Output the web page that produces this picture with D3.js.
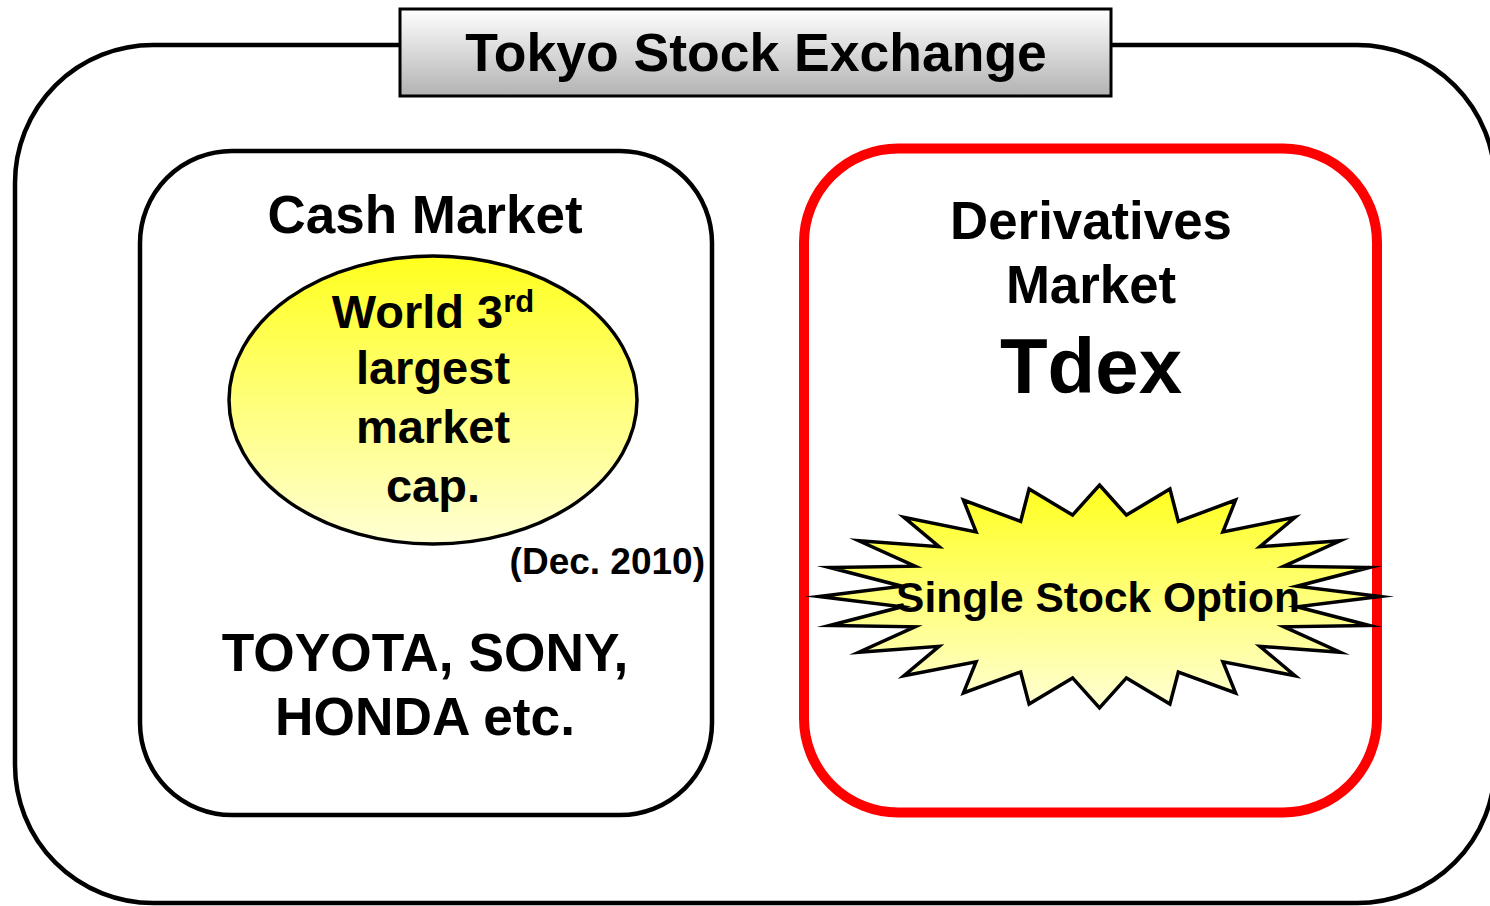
<!DOCTYPE html>
<html>
	<head>
		<meta charset="utf-8">
		<title>Tokyo Stock Exchange</title>
		<style>
			body {
			  margin: 0;
			  overflow: hidden;
			  background: #fff;
			}
			svg {
			  position: absolute;
			  font-family: "Liberation Sans", Arial, sans-serif;
			  font-weight: bold;
			}
		</style>
		<script src="https://d3js.org/d3.v7.min.js" charset="utf-8"></script>
	</head>
	<body>
		<script>

		// labels
		var titleText = "Tokyo Stock Exchange";
		var cashTitle = ["Cash Market"];
		var capLines = ["largest", "market", "cap."];
		var capFirst = ["World 3", "rd"];
		var capNote = "(Dec. 2010)";
		var companies = ["TOYOTA, SONY,", "HONDA etc."];
		var derivTitle = ["Derivatives", "Market"];
		var derivName = "Tdex";
		var starLabel = "Single Stock Option";

		// starburst vertices in unit space (-1..1), clockwise from the top tip
		var starOuter = [
			[0, -1], [0.251, -0.965], [0.485, -0.865], [0.697, -0.711], [0.858, -0.5], [0.962, -0.26],
			[1, 0], [0.962, 0.26], [0.858, 0.5], [0.697, 0.711], [0.485, 0.865], [0.251, 0.965],
			[0, 1], [-0.251, 0.965], [-0.485, 0.865], [-0.697, 0.711], [-0.858, 0.5], [-0.962, 0.26],
			[-1, 0], [-0.962, -0.26], [-0.858, -0.5], [-0.697, -0.711], [-0.485, -0.865], [-0.251, -0.965]
		];
		var starInner = [
			[0.096, -0.73], [0.281, -0.673], [0.44, -0.579], [0.572, -0.447], [0.658, -0.272], [0.704, -0.092],
			[0.704, 0.092], [0.658, 0.272], [0.572, 0.447], [0.44, 0.585], [0.281, 0.677], [0.096, 0.73],
			[-0.096, 0.73], [-0.281, 0.677], [-0.44, 0.585], [-0.572, 0.447], [-0.658, 0.272], [-0.704, 0.092],
			[-0.704, -0.092], [-0.658, -0.272], [-0.572, -0.447], [-0.44, -0.579], [-0.281, -0.673], [-0.096, -0.73]
		];

		var w = 1490,
			h = 906;

		var svg = d3.select("body").append("svg")
			.attr("width", w)
			.attr("height", h);

		var defs = svg.append("defs");

		function vGradient(id, top, bottom) {
			var g = defs.append("linearGradient").attr("id", id)
				.attr("x1", 0).attr("y1", 0).attr("x2", 0).attr("y2", 1);
			g.append("stop").attr("offset", "0%").attr("stop-color", top);
			g.append("stop").attr("offset", "100%").attr("stop-color", bottom);
		}
		vGradient("gray", "#ffffff", "#b2b2b2");
		vGradient("yellow", "#ffff1e", "#ffffd4");

		// outer frame
		svg.append("rect")
			.attr("x", 15).attr("y", 45)
			.attr("width", 1480).attr("height", 858)
			.attr("rx", 138).attr("ry", 138)
			.attr("fill", "none")
			.attr("stroke", "#000")
			.attr("stroke-width", 4.5);

		// title box
		svg.append("rect")
			.attr("x", 400).attr("y", 9)
			.attr("width", 711).attr("height", 87)
			.attr("fill", "url(#gray)")
			.attr("stroke", "#000")
			.attr("stroke-width", 3);

		svg.append("text")
			.attr("x", 756).attr("y", 71)
			.attr("text-anchor", "middle")
			.attr("font-size", "53.5px")
			.text(titleText);

		// cash market
		svg.append("rect")
			.attr("x", 140).attr("y", 151)
			.attr("width", 572).attr("height", 664)
			.attr("rx", 92).attr("ry", 92)
			.attr("fill", "none")
			.attr("stroke", "#000")
			.attr("stroke-width", 4.5);

		svg.selectAll(".cashTitle").data(cashTitle).enter().append("text")
			.attr("class", "cashTitle")
			.attr("x", 425).attr("y", 233)
			.attr("text-anchor", "middle")
			.attr("font-size", "53px")
			.text(function(d) { return d; });

		svg.append("ellipse")
			.attr("cx", 433).attr("cy", 400)
			.attr("rx", 204).attr("ry", 144)
			.attr("fill", "url(#yellow)")
			.attr("stroke", "#000")
			.attr("stroke-width", 3.5);

		var first = svg.append("text")
			.attr("x", 433).attr("y", 328)
			.attr("text-anchor", "middle")
			.attr("font-size", "47px");
		first.append("tspan").text(capFirst[0]);
		first.append("tspan").attr("font-size", "31px").attr("dy", -16).text(capFirst[1]);

		var lineY = d3.scaleLinear().domain([0, 2]).range([384, 502]);

		svg.selectAll(".capLine").data(capLines).enter().append("text")
			.attr("class", "capLine")
			.attr("x", 433)
			.attr("y", function(d, i) { return lineY(i); })
			.attr("text-anchor", "middle")
			.attr("font-size", "47px")
			.text(function(d) { return d; });

		svg.append("text")
			.attr("x", 705).attr("y", 574)
			.attr("text-anchor", "end")
			.attr("font-size", "37px")
			.text(capNote);

		var compY = d3.scaleLinear().domain([0, 1]).range([671, 735]);

		svg.selectAll(".company").data(companies).enter().append("text")
			.attr("class", "company")
			.attr("x", 425)
			.attr("y", function(d, i) { return compY(i); })
			.attr("text-anchor", "middle")
			.attr("font-size", "53.3px")
			.text(function(d) { return d; });

		// derivatives market
		svg.append("rect")
			.attr("x", 804).attr("y", 148.5)
			.attr("width", 573).attr("height", 664)
			.attr("rx", 94).attr("ry", 94)
			.attr("fill", "none")
			.attr("stroke", "#ff0000")
			.attr("stroke-width", 10);

		var derivY = d3.scaleLinear().domain([0, 1]).range([239, 303]);

		svg.selectAll(".deriv").data(derivTitle).enter().append("text")
			.attr("class", "deriv")
			.attr("x", 1091)
			.attr("y", function(d, i) { return derivY(i); })
			.attr("text-anchor", "middle")
			.attr("font-size", "52.8px")
			.text(function(d) { return d; });

		svg.append("text")
			.attr("x", 1091).attr("y", 393)
			.attr("text-anchor", "middle")
			.attr("font-size", "78px")
			.text(derivName);

		// starburst
		var sx = d3.scaleLinear().domain([-1, 1]).range([819, 1380]),
			sy = d3.scaleLinear().domain([-1, 1]).range([485, 708]);

		var starPts = [];
		starOuter.forEach(function(p, i) {
			starPts.push(p);
			starPts.push(starInner[i]);
		});

		var line = d3.line()
			.x(function(d) { return sx(d[0]); })
			.y(function(d) { return sy(d[1]); })
			.curve(d3.curveLinearClosed);

		svg.append("path")
			.datum(starPts)
			.attr("d", line)
			.attr("fill", "url(#yellow)")
			.attr("stroke", "#000")
			.attr("stroke-width", 3.5)
			.attr("stroke-linejoin", "miter")
			.attr("stroke-miterlimit", 20);

		svg.append("text")
			.attr("x", 1098).attr("y", 612)
			.attr("text-anchor", "middle")
			.attr("font-size", "42.5px")
			.text(starLabel);

		</script>
	</body>
</html>
